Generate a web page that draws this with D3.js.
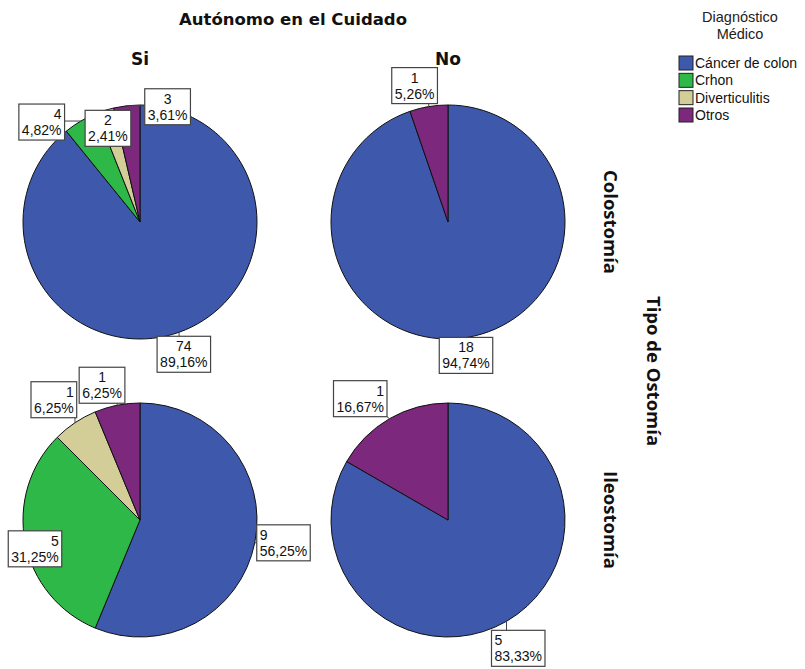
<!DOCTYPE html>
<html>
<head>
<meta charset="utf-8">
<script src="https://cdn.jsdelivr.net/npm/d3@7"></script>
<style>
  html, body { margin: 0; padding: 0; background: #fff; }
  svg { display: block; }
</style>
</head>
<body>
<svg id="chart" width="805" height="669"></svg>
<script>
// Diagnosis categories and their colours
const categories = ["Cáncer de colon", "Crhon", "Diverticulitis", "Otros"];
const categoryColors = ["#3E58AC", "#2EB848", "#D3CE97", "#7C287D"];

// Panel headers
const columnLabels = ["Si", "No"];          // Autónomo en el Cuidado
const rowLabels = ["Colostomía", "Ileostomía"]; // Tipo de Ostomía

// Counts per diagnosis, one array per panel
const colostomiaSi = [74, 4, 2, 3];
const colostomiaNo = [18, 0, 0, 1];
const ileostomiaSi = [9, 5, 1, 1];
const ileostomiaNo = [5, 0, 0, 1];

const panels = [
  { row: 0, col: 0, values: colostomiaSi },
  { row: 0, col: 1, values: colostomiaNo },
  { row: 1, col: 0, values: ileostomiaSi },
  { row: 1, col: 1, values: ileostomiaNo }
];

// Label box offsets (from the slice's outer mid-point) and text alignment
const labelLayout = [
  [ {dx: -22, dy: 4, a: "middle"}, {dx: -62, dy: -17, a: "end"}, {dx: -20, dy: 0, a: "middle"}, {dx: 18, dy: -17, a: "middle"} ],
  [ {dx: -28, dy: 0, a: "middle"}, null, null, {dx: -37, dy: -39, a: "middle"} ],
  [ {dx: 2, dy: -18, a: "start"}, {dx: -17, dy: -12, a: "end"}, {dx: -44, dy: -41, a: "end"}, {dx: -38, dy: -38, a: "middle"} ],
  [ {dx: -15, dy: 9, a: "start"}, null, null, {dx: -56, dy: -38, a: "end"} ]
];

const svg = d3.select("#chart");
const radius = 117;

const x = d3.scalePoint().domain([0, 1]).range([140, 448]);
const y = d3.scalePoint().domain([0, 1]).range([222, 520]);
const color = d3.scaleOrdinal().domain(categories).range(categoryColors);

const pie = d3.pie().sort(null).value(d => d.value);
const arc = d3.arc().innerRadius(0).outerRadius(radius);

const fmtPct = v => v.toFixed(2).replace(".", ",") + "%";

// Titles
svg.append("text")
  .attr("x", 293).attr("y", 25)
  .attr("text-anchor", "middle")
  .attr("font-family", "DejaVu Sans, sans-serif")
  .attr("font-weight", "bold").attr("font-size", 16.5)
  .attr("fill", "#111")
  .text("Autónomo en el Cuidado");

columnLabels.forEach((t, i) => {
  svg.append("text")
    .attr("x", x(i)).attr("y", 65)
    .attr("text-anchor", "middle")
    .attr("font-family", "DejaVu Sans, sans-serif")
    .attr("font-weight", "bold").attr("font-size", 17)
    .attr("fill", "#111")
    .text(t);
});

rowLabels.forEach((t, i) => {
  svg.append("text")
    .attr("transform", `translate(604,${y(i)}) rotate(90)`)
    .attr("text-anchor", "middle")
    .attr("font-family", "Open Sans, DejaVu Sans, sans-serif")
    .attr("font-weight", "bold").attr("font-size", 18.5)
    .attr("fill", "#111")
    .text(t);
});

svg.append("text")
  .attr("transform", `translate(647,${(y(0) + y(1)) / 2}) rotate(90)`)
  .attr("text-anchor", "middle")
  .attr("font-family", "Open Sans, DejaVu Sans, sans-serif")
  .attr("font-weight", "bold").attr("font-size", 18.5)
  .attr("fill", "#111")
  .text("Tipo de Ostomía");

// Pies
const pieLayer = svg.append("g");
const labelLayer = svg.append("g");

panels.forEach((p, pi) => {
  const data = p.values.map((v, i) => ({ key: categories[i], value: v, idx: i }));
  const total = d3.sum(p.values);
  const arcs = pie(data);
  const cx = x(p.col), cy = y(p.row);

  const g = pieLayer.append("g").attr("transform", `translate(${cx},${cy})`);
  g.selectAll("path")
    .data(arcs.filter(d => d.data.value > 0))
    .join("path")
    .attr("d", arc)
    .attr("fill", d => color(d.data.key))
    .attr("stroke", "#111")
    .attr("stroke-width", 1);

  arcs.forEach(d => {
    if (d.data.value <= 0) return;
    const lay = labelLayout[pi][d.data.idx];
    if (!lay) return;
    const mid = (d.startAngle + d.endAngle) / 2;
    const ax = cx + radius * Math.sin(mid);
    const ay = cy - radius * Math.cos(mid);

    const lines = [String(d.data.value), fmtPct(d.data.value / total * 100)];
    const lg = labelLayer.append("g");
    const box = lg.append("rect");
    const txt = lg.append("g");
    const tEls = lines.map((s, k) => txt.append("text")
      .attr("y", 14 + k * 16)
      .attr("font-family", "Liberation Sans, Arial, sans-serif")
      .attr("font-size", 14)
      .attr("fill", "#111")
      .text(s));
    const w = d3.max(tEls, t => t.node().getComputedTextLength()) + 6;
    const h = 36;
    const bx = ax + lay.dx, by = ay + lay.dy;
    const tx = lay.a === "start" ? 3 : lay.a === "end" ? w - 3 : w / 2;
    tEls.forEach(t => t.attr("x", tx).attr("text-anchor", lay.a));
    txt.attr("transform", `translate(${bx},${by + 1})`);

    // leader from the slice edge to the nearest point of the box
    const px = Math.max(bx, Math.min(ax, bx + w));
    const py = Math.max(by, Math.min(ay, by + h));
    lg.insert("line", "rect")
      .attr("x1", ax).attr("y1", ay).attr("x2", px).attr("y2", py)
      .attr("stroke", "#444").attr("stroke-width", 1);
    box.attr("x", bx).attr("y", by).attr("width", w).attr("height", h)
      .attr("fill", "#fff").attr("stroke", "#444").attr("stroke-width", 1.2);
  });
});

// Legend
const legend = svg.append("g");
["Diagnóstico", "Médico"].forEach((t, i) => {
  legend.append("text")
    .attr("x", 740).attr("y", 22 + i * 17)
    .attr("text-anchor", "middle")
    .attr("font-family", "Liberation Sans, Arial, sans-serif")
    .attr("font-size", 14.5)
    .attr("fill", "#222")
    .text(t);
});
const ly = d3.scalePoint().domain(categories).range([63, 115]);
categories.forEach(c => {
  legend.append("rect")
    .attr("x", 679).attr("y", ly(c) - 7)
    .attr("width", 14).attr("height", 14)
    .attr("fill", color(c))
    .attr("stroke", "#222").attr("stroke-width", 1);
  legend.append("text")
    .attr("x", 695).attr("y", ly(c) + 5)
    .attr("font-family", "Liberation Sans, Arial, sans-serif")
    .attr("font-size", 14)
    .attr("fill", "#111")
    .text(c);
});
</script>
</body>
</html>
